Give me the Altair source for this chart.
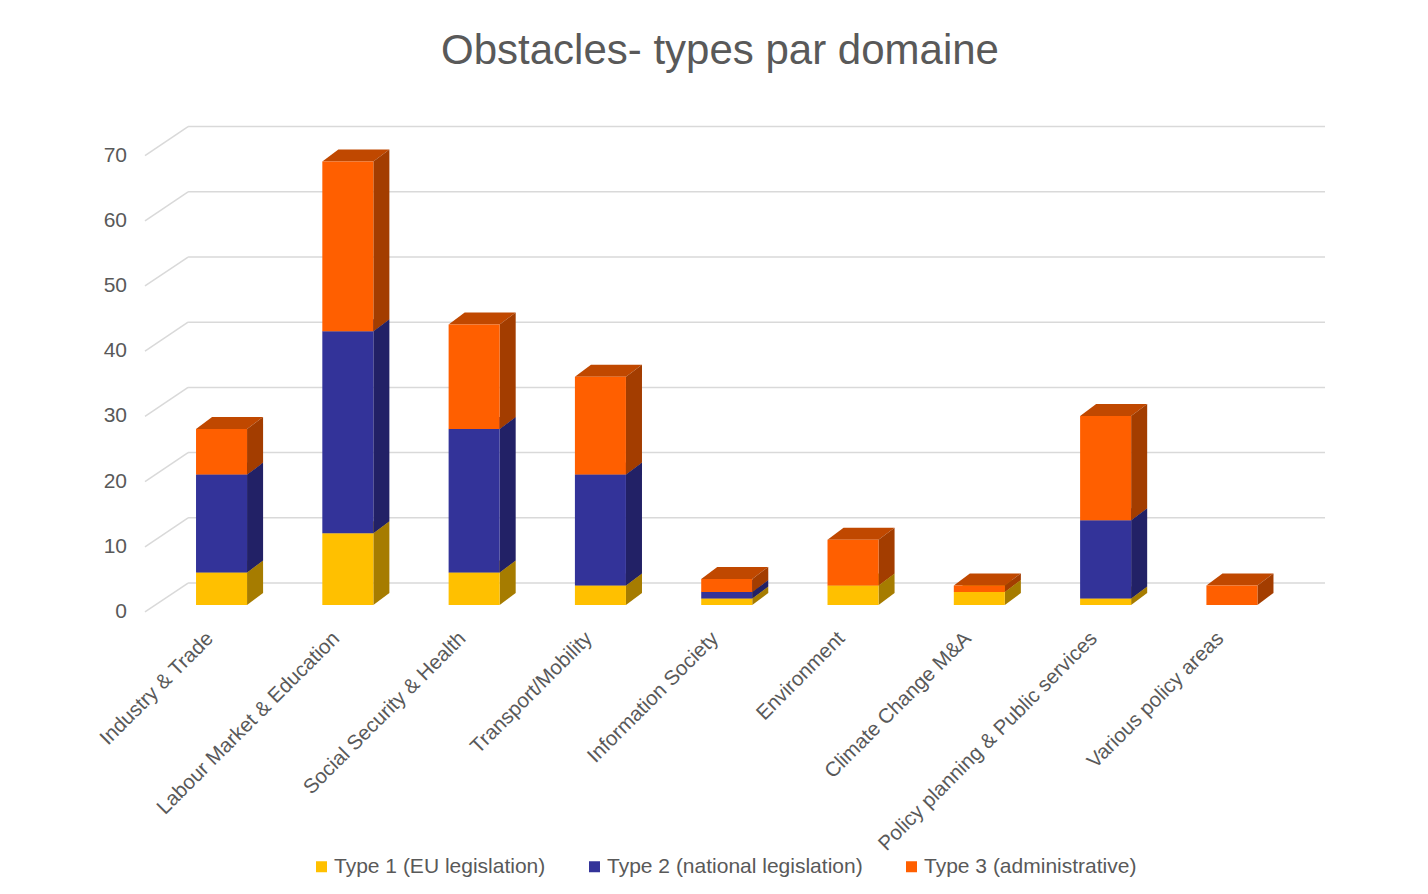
import altair as alt
import pandas as pd

# ---------------- data ----------------
categories = [
    "Industry & Trade",
    "Labour Market & Education",
    "Social Security & Health",
    "Transport/Mobility",
    "Information Society",
    "Environment",
    "Climate Change M&A",
    "Policy planning & Public services",
    "Various policy areas",
]
types = ["Type 1 (EU legislation)", "Type 2 (national legislation)", "Type 3 (administrative)"]
type1 = [5, 11, 5, 3, 1, 3, 2, 1, 0]
type2 = [15, 31, 22, 17, 1, 0, 0, 12, 0]
type3 = [7, 26, 16, 15, 2, 7, 1, 16, 3]
y_ticks = [0, 10, 20, 30, 40, 50, 60, 70]

# ---------------- styles ----------------
front_colors = ["#FFC000", "#333399", "#FF5F00"]
side_colors = ["#A67C00", "#222166", "#A33D00"]
top_colors = ["#BF9000", "#262673", "#C04800"]
text_color = "#595959"
grid_color = "#D9D9D9"
FONT = "Liberation Sans"

HW = 0.202      # half bar width (category units)
DX = 0.127      # bar depth along x (category units)
DY = 1.84       # bar depth along y (value units)
FRONT_Y = -1.07  # axis front plane offset (value units)
BACK_Y = 3.37    # back wall offset (value units)
X_FRONT = -0.606
X_BACK = -0.265
X_END = 8.737

# ---------------- tables ----------------
series = [type1, type2, type3]
front_rows, side_rows, top_rows = [], [], []
for i, cat in enumerate(categories):
    cum = 0
    for k, t in enumerate(types):
        v = series[k][i]
        if v <= 0:
            continue
        y0, y1 = cum, cum + v
        cum = y1
        fid = f"{i}-{k}"
        front_rows.append(dict(type=t, x0=i - HW, x1=i + HW, y0=y0, y1=y1))
        side_rows.append(dict(type=t, fid=fid, x=i + HW, lo=y0, hi=y1))
        side_rows.append(dict(type=t, fid=fid, x=i + HW + DX, lo=y0 + DY, hi=y1 + DY))
        top_rows.append(dict(type=t, fid=fid, y=y1, xa=i - HW, xb=i + HW))
        top_rows.append(dict(type=t, fid=fid, y=y1 + DY, xa=i - HW + DX, xb=i + HW + DX))
front_df = pd.DataFrame(front_rows)
side_df = pd.DataFrame(side_rows)
top_df = pd.DataFrame(top_rows)

grid_rows = []
for v in y_ticks:
    grid_rows.append(dict(x=X_FRONT, x2=X_BACK, y=v + FRONT_Y, y2=v + BACK_Y))
    grid_rows.append(dict(x=X_BACK, x2=X_END, y=v + BACK_Y, y2=v + BACK_Y))
grid_df = pd.DataFrame(grid_rows)
label_df = pd.DataFrame(dict(v=y_ticks, y=[v + FRONT_Y for v in y_ticks], x=[X_FRONT] * len(y_ticks)))

# ---------------- scales & axes ----------------
xs = alt.Scale(domain=[X_FRONT, X_END], nice=False, zero=False)
ys = alt.Scale(domain=[-3.07, 77.45], nice=False, zero=False)
cat_expr = "[" + ",".join("'" + c + "'" for c in categories) + "][datum.value]"
x_axis = alt.Axis(
    values=list(range(len(categories))), labelExpr=cat_expr, labelAngle=-45,
    labelAlign="right", labelBaseline="middle", labelPadding=10, labelOffset=-12,
    domain=False, ticks=False, grid=False, title=None, labelFont=FONT,
    labelFontSize=20.5, labelColor=text_color, labelOverlap=False, labelBound=False,
    labelLimit=0,
)

grid = alt.Chart(grid_df).mark_rule(color=grid_color, strokeWidth=1.5).encode(
    x=alt.X("x:Q", scale=xs, axis=x_axis), x2="x2:Q",
    y=alt.Y("y:Q", scale=ys, axis=None), y2="y2:Q",
)

ylabels = alt.Chart(label_df).mark_text(
    align="right", baseline="middle", dx=-18, font=FONT, fontSize=21, color=text_color
).encode(
    x=alt.X("x:Q", scale=xs, axis=x_axis),
    y=alt.Y("y:Q", scale=ys, axis=None),
    text=alt.Text("v:Q"),
)

tops = alt.Chart(top_df).mark_area(orient="horizontal").encode(
    y=alt.Y("y:Q", scale=ys, axis=None),
    x=alt.X("xa:Q", scale=xs, axis=x_axis), x2="xb:Q",
    detail="fid:N",
    color=alt.Color("type:N", scale=alt.Scale(domain=types, range=top_colors), legend=None),
)

sides = alt.Chart(side_df).mark_area(orient="vertical").encode(
    x=alt.X("x:Q", scale=xs, axis=x_axis),
    y=alt.Y("lo:Q", scale=ys, axis=None, stack=None), y2="hi:Q",
    detail="fid:N",
    color=alt.Color("type:N", scale=alt.Scale(domain=types, range=side_colors), legend=None),
)

fronts = alt.Chart(front_df).mark_rect().encode(
    x=alt.X("x0:Q", scale=xs, axis=x_axis),
    x2="x1:Q",
    y=alt.Y("y0:Q", scale=ys, axis=None), y2="y1:Q",
    color=alt.Color("type:N", scale=alt.Scale(domain=types, range=front_colors),
                    sort=types,
                    legend=alt.Legend(
                        title=None, orient="none", direction="horizontal",
                        legendX=166, legendY=756, symbolType="square", symbolSize=121,
                        symbolStrokeWidth=0, labelFont=FONT, labelFontSize=21,
                        labelColor=text_color, columnPadding=38, labelOffset=2,
                        labelLimit=0,
                    )),
)

chart = alt.layer(grid, ylabels, tops, sides, fronts).resolve_scale(
    color="independent"
).properties(
    width=1180,
    height=525,
    autosize=alt.AutoSizeParams(type="none"),
    padding={"left": 137, "top": 92, "right": 95, "bottom": 261},
    title=alt.Title("Obstacles- types par domaine", font=FONT, fontSize=42,
                    fontWeight="normal", color=text_color, anchor="middle",
                    offset=27, dx=-15),
).configure(background="white").configure_view(strokeWidth=0, stroke="transparent")

chart.save("out.html", embed_options={"renderer": "svg", "actions": False})
